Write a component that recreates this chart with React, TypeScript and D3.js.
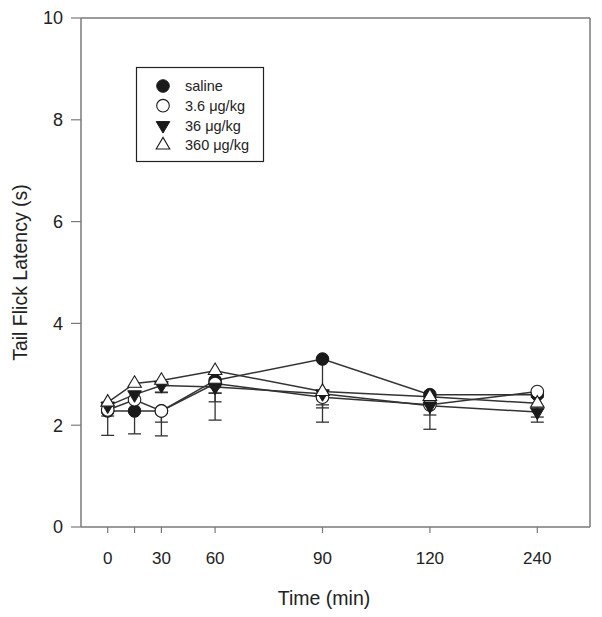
import React from "react";
import * as d3 from "d3";

const times = [0, 15, 30, 60, 90, 120, 240];
const timeLabels = ["0", "", "30", "60", "90", "120", "240"];
const slots = [0, 1, 2, 4, 8, 12, 16];
const yTicks = [0, 2, 4, 6, 8, 10];

const seriesNames = ["saline", "3.6 μg/kg", "36 μg/kg", "360 μg/kg"];
const salineMean = [2.28, 2.28, 2.28, 2.88, 3.3, 2.6, 2.6];
const salineSem = [0.48, 0.45, 0.22, 0.78, 1.24, 0.05, 0.05];
const low36Mean = [2.3, 2.5, 2.28, 2.82, 2.55, 2.4, 2.66];
const low36Sem = [0.12, 0.05, 0.49, 0.36, 0.21, 0.48, 0.05];
const mid36Mean = [2.38, 2.6, 2.78, 2.75, 2.62, 2.38, 2.26];
const mid36Sem = [0.05, 0.13, 0.13, 0.12, 0.22, 0.18, 0.2];
const high360Mean = [2.45, 2.82, 2.88, 3.07, 2.66, 2.56, 2.43];
const high360Sem = [0.05, 0.05, 0.24, 0.44, 0.05, 0.05, 0.27];

const symbols = ["circleFilled", "circleOpen", "triDownFilled", "triUpOpen"];

const W = 602;
const H = 617;
const L = 81, R = 590, T = 18, B = 527;

function Marker({ kind, x, y }: { kind: string; x: number; y: number }) {
  const stroke = "#1a1a1a";
  if (kind === "circleFilled") return <circle cx={x} cy={y} r={6.3} fill="#1a1a1a" stroke={stroke} strokeWidth={1} />;
  if (kind === "circleOpen") return <circle cx={x} cy={y} r={6.3} fill="#fff" stroke={stroke} strokeWidth={1.1} />;
  const w = 6.8, h = 11.5;
  if (kind === "triDownFilled") {
    const p = `M${x - w},${y - h / 3} L${x + w},${y - h / 3} L${x},${y + (2 * h) / 3} Z`;
    return <path d={p} fill="#1a1a1a" stroke={stroke} strokeWidth={1} />;
  }
  const p = `M${x - w},${y + h / 3} L${x + w},${y + h / 3} L${x},${y - (2 * h) / 3} Z`;
  return <path d={p} fill="#fff" stroke={stroke} strokeWidth={1.1} />;
}

export default function App() {
  const slotScale = d3.scaleLinear().domain([0, 16]).range([107.7, 537.3]);
  const x = d3.scaleLinear().domain(times).range(slots.map((s) => slotScale(s)));
  const y = d3.scaleLinear().domain([0, 10]).range([B, T]);

  const series = [
    { name: seriesNames[0], mean: salineMean, sem: salineSem, sym: symbols[0] },
    { name: seriesNames[1], mean: low36Mean, sem: low36Sem, sym: symbols[1] },
    { name: seriesNames[2], mean: mid36Mean, sem: mid36Sem, sym: symbols[2] },
    { name: seriesNames[3], mean: high360Mean, sem: high360Sem, sym: symbols[3] },
  ];

  const line = d3
    .line<number>()
    .x((_, i) => x(times[i]))
    .y((d) => y(d));

  const axisColor = "#7a7a7a";
  const dataColor = "#333";
  const font = "Arial, 'Liberation Sans', sans-serif";

  return (
    <svg width={W} height={H} style={{ position: "absolute", left: 0, top: 0, background: "#fff" }} fontFamily={font}>
      <rect x={0} y={0} width={W} height={H} fill="#fff" />
      {/* frame */}
      <line x1={L} x2={R} y1={T} y2={T} stroke={axisColor} strokeWidth={1.5} />
      <line x1={R} x2={R} y1={T} y2={B} stroke={axisColor} strokeWidth={1.5} />
      <line x1={L} x2={L} y1={T} y2={B} stroke={axisColor} strokeWidth={1.5} />
      <line x1={L} x2={R} y1={B} y2={B} stroke={axisColor} strokeWidth={1.5} />
      {/* y ticks */}
      {yTicks.map((t) => (
        <g key={"y" + t}>
          <line x1={L - 10} x2={L} y1={y(t)} y2={y(t)} stroke={axisColor} strokeWidth={1.2} />
          <text x={L - 18} y={y(t)} dy="0.36em" textAnchor="end" fontSize={18} fill="#222">
            {t}
          </text>
        </g>
      ))}
      {/* x ticks */}
      {times.map((t, i) => (
        <g key={"x" + t}>
          <line x1={x(t)} x2={x(t)} y1={B} y2={B + 6} stroke={axisColor} strokeWidth={1.2} />
          <text x={x(t)} y={564} textAnchor="middle" fontSize={17} fill="#222">
            {timeLabels[i]}
          </text>
        </g>
      ))}
      <text x={324} y={605} textAnchor="middle" fontSize={19.5} fill="#222">
        Time (min)
      </text>
      <text transform={`translate(27,${(T + B) / 2}) rotate(-90)`} textAnchor="middle" fontSize={19.5} fill="#222">
        Tail Flick Latency (s)
      </text>
      {/* lines */}
      {series.map((s) => (
        <path key={"l" + s.name} d={line(s.mean) || ""} fill="none" stroke={dataColor} strokeWidth={1.5} />
      ))}
      {/* error bars + markers */}
      {series.map((s) => (
        <g key={"e" + s.name}>
          {s.mean.map((m, i) => {
            const cx = x(times[i]);
            const lo = y(m - s.sem[i]);
            return (
              <g key={i}>
                <line x1={cx} x2={cx} y1={y(m)} y2={lo} stroke={dataColor} strokeWidth={1.3} />
                <line x1={cx - 6.5} x2={cx + 6.5} y1={lo} y2={lo} stroke={dataColor} strokeWidth={1.3} />
              </g>
            );
          })}
        </g>
      ))}
      {series.map((s) => (
        <g key={"m" + s.name}>
          {s.mean.map((m, i) => (
            <Marker key={i} kind={s.sym} x={x(times[i])} y={y(m)} />
          ))}
        </g>
      ))}
      {/* legend */}
      <rect x={136.5} y={67.5} width={127} height={94} fill="#fff" stroke="#222" strokeWidth={1.2} />
      {series.map((s, i) => (
        <g key={"lg" + s.name}>
          <Marker kind={s.sym} x={163} y={86 + i * 19.7} />
          <text x={185} y={86 + i * 19.7} dy="0.36em" fontSize={14.5} fill="#222">
            {s.name}
          </text>
        </g>
      ))}
    </svg>
  );
}
